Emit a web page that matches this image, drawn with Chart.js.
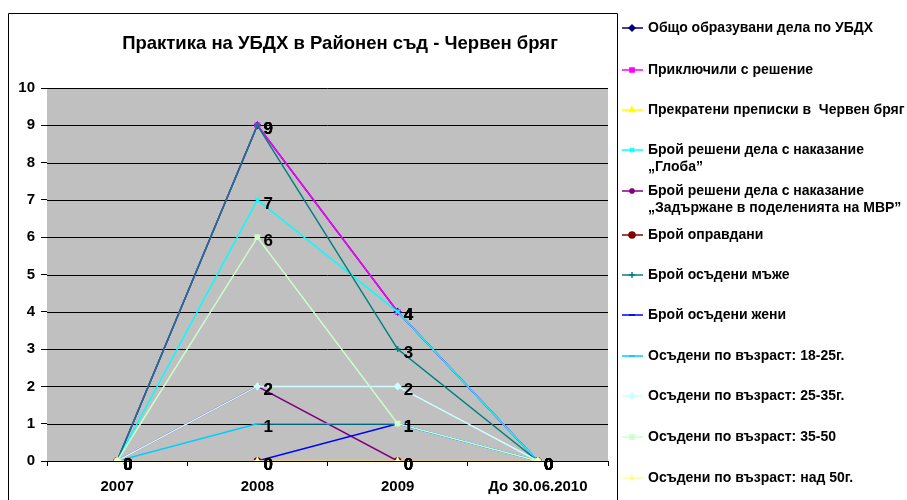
<!DOCTYPE html>
<html>
<head>
<meta charset="utf-8">
<script src="https://cdn.jsdelivr.net/npm/chart.js@4.4.1/dist/chart.umd.min.js"></script>
<style>
    body { margin: 0; background: #fff; }
    canvas { display: block; }
</style>
</head>
<body>
<canvas id="chart" width="907" height="500"></canvas>
<script>
const years = ['2007', '2008', '2009', 'До 30.06.2010']

const seriesNames = [
    'Общо образувани дела по УБДХ',
    'Приключили с решение',
    'Прекратени преписки в  Червен бряг',
    ['Брой решени дела с наказание', '„Глоба”'],
    ['Брой решени дела с наказание', '„Задържане в поделенията на МВР”'],
    'Брой оправдани',
    'Брой осъдени мъже',
    'Брой осъдени жени',
    'Осъдени по възраст: 18-25г.',
    'Осъдени по възраст: 25-35г.',
    'Осъдени по възраст: 35-50',
    'Осъдени по възраст: над 50г.'
]

const totalCases = [0, 9, 4, 0]
const closedWithDecision = [0, 9, 4, 0]
const terminated = [0, 0, 0, 0]
const fined = [0, 7, 4, 0]
const detained = [0, 2, 0, 0]
const acquitted = [0, 0, 0, 0]
const convictedMen = [0, 9, 3, 0]
const convictedWomen = [0, 0, 1, 0]
const age18to25 = [0, 1, 1, 0]
const age25to35 = [0, 2, 2, 0]
const age35to50 = [0, 6, 1, 0]
const ageOver50 = [0, 0, 0, 0]

const seriesValues = [totalCases, closedWithDecision, terminated, fined, detained, acquitted,
    convictedMen, convictedWomen, age18to25, age25to35, age35to50, ageOver50]

const colors = ['#000080', '#FF00FF', '#FFFF00', '#00FFFF', '#800080', '#800000',
    '#008080', '#0000FF', '#00CCFF', '#CCFFFF', '#CCFFCC', '#FFFF99']
const markers = ['rectRot', 'rect', 'triangle', 'crossRot', 'star', 'circle',
    'cross', 'line', 'line', 'rectRot', 'rect', 'triangle']

const legendRows = [28, 70, 110, 150, 191, 235, 275, 315, 356, 396, 437, 478]

const datasets = seriesValues.map((vals, i) => ({
    label: seriesNames[i],
    data: vals,
    borderColor: colors[i],
    backgroundColor: colors[i],
    borderWidth: 1.5,
    pointStyle: markers[i],
    pointRadius: 3,
    pointBorderWidth: 1.5,
    tension: 0,
    order: seriesValues.length - i
}))

const frame = {
    id: 'frame',
    beforeDatasetsDraw(chart) {
        const { ctx, chartArea } = chart
        ctx.save()
        ctx.fillStyle = '#C0C0C0'
        ctx.fillRect(chartArea.left, chartArea.top, chartArea.right - chartArea.left, chartArea.bottom - chartArea.top)
        // grid lines on top of the grey
        const y = chart.scales.y
        ctx.strokeStyle = '#000'
        ctx.lineWidth = 1
        for (let v = 0; v <= 10; v++) {
            const py = Math.round(y.getPixelForValue(v)) + 0.5
            ctx.beginPath()
            ctx.moveTo(chartArea.left, py)
            ctx.lineTo(chartArea.right, py)
            ctx.stroke()
        }
        ctx.restore()
    },
    afterDraw(chart) {
        const ctx = chart.ctx
        ctx.save()
        // outer frame
        ctx.strokeStyle = '#000'
        ctx.lineWidth = 1
        ctx.beginPath()
        ctx.moveTo(8.5, 501)
        ctx.lineTo(8.5, 13.5)
        ctx.lineTo(617.5, 13.5)
        ctx.lineTo(617.5, 501)
        ctx.stroke()

        // title
        ctx.fillStyle = '#000'
        ctx.font = 'bold 18.5px "Liberation Sans"'
        ctx.textAlign = 'center'
        ctx.textBaseline = 'middle'
        ctx.fillText('Практика на УБДХ в Районен съд - Червен бряг', 340, 44)

        // legend
        ctx.font = 'bold 14px "Liberation Sans"'
        ctx.textAlign = 'left'
        chart.data.datasets.forEach((ds, i) => {
            const ry = legendRows[i]
            ctx.strokeStyle = ds.borderColor
            ctx.fillStyle = ds.borderColor
            ctx.lineWidth = 1.5
            ctx.beginPath()
            ctx.moveTo(622, ry)
            ctx.lineTo(643, ry)
            ctx.stroke()
            Chart.helpers.drawPoint(ctx, { pointStyle: ds.pointStyle, radius: 3, borderWidth: 1.5, rotation: 0 }, 632, ry)
            ctx.fillStyle = '#000'
            const lines = Array.isArray(ds.label) ? ds.label : [ds.label]
            lines.forEach((t, k) => ctx.fillText(t, 648, ry + k * 17))
        })
        ctx.restore()
    },
    afterDatasetsDraw(chart) {
        const ctx = chart.ctx
        ctx.save()
        ctx.fillStyle = '#000'
        ctx.font = 'bold 17px "Liberation Sans"'
        ctx.textAlign = 'left'
        ctx.textBaseline = 'middle'
        chart.data.datasets.forEach((ds, i) => {
            chart.getDatasetMeta(i).data.forEach((pt, j) => {
                ctx.fillText(String(ds.data[j]), pt.x + 6, pt.y + 4)
            })
        })
        ctx.restore()
    }
}

new Chart(document.getElementById('chart').getContext('2d'), {
    type: 'line',
    data: {
        labels: years,
        datasets: datasets
    },
    options: {
        responsive: false,
        animation: false,
        layout: {
            padding: { left: 0, top: 88, right: 299, bottom: 0 }
        },
        scales: {
            x: {
                offset: true,
                afterFit: s => { s.height = 39 },
                grid: {
                    offset: true,
                    drawOnChartArea: false,
                    tickLength: 5,
                    color: '#000'
                },
                border: { color: '#000' },
                ticks: {
                    color: '#000',
                    padding: 12,
                    font: { family: 'Liberation Sans', weight: 'bold', size: 15 }
                }
            },
            y: {
                min: 0,
                max: 10,
                afterFit: s => { s.width = 47 },
                grid: {
                    drawOnChartArea: false,
                    tickLength: 6,
                    color: '#000'
                },
                border: { color: '#000' },
                ticks: {
                    stepSize: 1,
                    color: '#000',
                    padding: 6,
                    font: { family: 'Liberation Sans', weight: 'bold', size: 15 }
                }
            }
        },
        plugins: {
            legend: { display: false },
            tooltip: { enabled: false }
        }
    },
    plugins: [frame]
})
</script>
</body>
</html>
